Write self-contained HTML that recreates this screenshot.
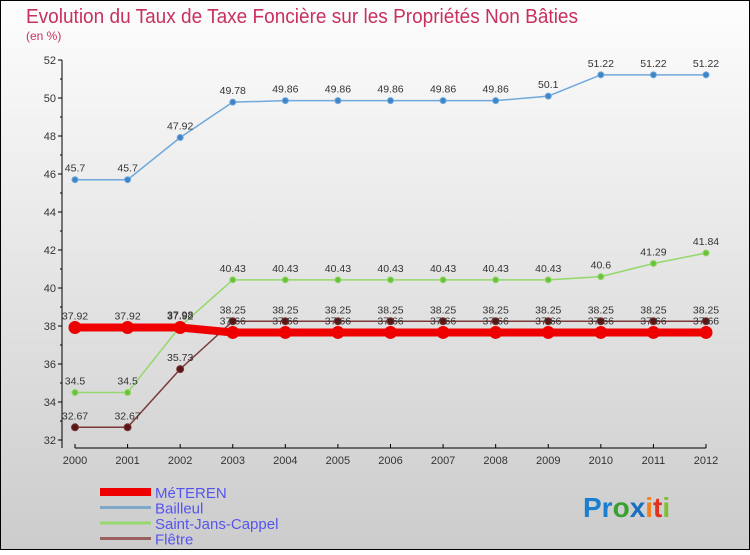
<!DOCTYPE html>
<html><head><meta charset="utf-8"><style>
body{margin:0;}
svg text{font-family:"Liberation Sans",sans-serif;}
</style></head><body>
<svg width="750" height="550" xmlns="http://www.w3.org/2000/svg">
<defs><linearGradient id="bg" x1="0" y1="0" x2="0" y2="1"><stop offset="0" stop-color="#fdfdfd"/><stop offset="1" stop-color="#cccccc"/></linearGradient></defs>
<rect x="0.5" y="0.5" width="749" height="549" fill="url(#bg)" stroke="#000"/>
<text x="26" y="23" font-size="20" fill="#c8305e" textLength="552" lengthAdjust="spacingAndGlyphs">Evolution du Taux de Taxe Foncière sur les Propriétés Non Bâties</text>
<text x="26" y="40" font-size="12" fill="#c8305e">(en %)</text>
<g id="axes"></g><g id="series"></g><g id="legend"></g>
<text x="583" y="517" font-size="28" font-weight="bold"><tspan fill="#1a7fd0">Pr</tspan><tspan fill="#3aa030">o</tspan><tspan fill="#1a6fc0">x</tspan><tspan fill="#f08020">i</tspan><tspan fill="#e03020">t</tspan><tspan fill="#80c030">i</tspan></text>
</svg>
<script>
const years=[2000,2001,2002,2003,2004,2005,2006,2007,2008,2009,2010,2011,2012];
const yTicks=[32,34,36,38,40,42,44,46,48,50,52];
const meteren=[37.92,37.92,37.92,37.66,37.66,37.66,37.66,37.66,37.66,37.66,37.66,37.66,37.66];
const bailleul=[45.7,45.7,47.92,49.78,49.86,49.86,49.86,49.86,49.86,50.1,51.22,51.22,51.22];
const sjc=[34.5,34.5,37.98,40.43,40.43,40.43,40.43,40.43,40.43,40.43,40.6,41.29,41.84];
const fletre=[32.67,32.67,35.73,38.25,38.25,38.25,38.25,38.25,38.25,38.25,38.25,38.25,38.25];
const NS='http://www.w3.org/2000/svg';
const xS=i=>75+i*(706-75)/12;
const yS=v=>60+(52-v)*19;
function mk(tag,at,parent,txt){const e=document.createElementNS(NS,tag);for(const k in at)e.setAttribute(k,at[k]);if(txt!==undefined)e.textContent=txt;document.getElementById(parent).appendChild(e);return e;}
let e;
e=mk('line',{x1:62,y1:60,x2:62,y2:448,stroke:'#000'},'axes');

e=mk('line',{x1:75,y1:448,x2:706,y2:448,stroke:'#000'},'axes');

yTicks.forEach(v=>{
 e=mk('line',{x1:58,y1:yS(v),x2:62,y2:yS(v),stroke:'#000'},'axes');
 
 e=mk('text',{x:56,y:yS(v)+4,'font-size':11,fill:'#333','text-anchor':'end'},'axes',v);
 
});
for(let v=33;v<52;v+=2){e=mk('line',{x1:60,y1:yS(v),x2:62,y2:yS(v),stroke:'#000'},'axes');}
years.forEach((y,i)=>{
 e=mk('line',{x1:xS(i),y1:444,x2:xS(i),y2:448,stroke:'#000'},'axes');
 
 e=mk('text',{x:xS(i),y:464,'font-size':11,fill:'#333','text-anchor':'middle'},'axes',y);
 
});
function series(data,color,w,r,dot,name){
 e=mk('polyline',{points:data.map((v,i)=>xS(i)+','+yS(v)).join(' '),fill:'none',stroke:color,'stroke-width':w},'series');
 
 data.forEach((v,i)=>{
  e=mk('circle',{cx:xS(i),cy:yS(v),r:r,fill:dot,stroke:color,'stroke-width':1},'series');
  
  e=mk('text',{x:xS(i),y:yS(v)-8,'font-size':10.5,fill:'#333','text-anchor':'middle'},'series',v);
  
 });
}
series(bailleul,'#6fa8dc',1.5,3,'#3d85c6','bailleul');
series(sjc,'#93d86a',1.5,3,'#6cc040','saint-jans-cappel');
series(fletre,'#7a3a3a',1.5,3.5,'#5a1515','fletre');
series(meteren,'#ee0000',8,6,'#ee0000','meteren');
const leg=[['MéTEREN','#ee0000',8],['Bailleul','#7fa8c8',3],['Saint-Jans-Cappel','#98d870',3],['Flêtre','#9a6060',3]];
leg.forEach((l,i)=>{
 const y=492+i*15.5;
 e=mk('line',{x1:100,y1:y,x2:151,y2:y,stroke:l[1],'stroke-width':l[2]},'legend');
 
 e=mk('text',{x:155,y:y+6,'font-size':15,fill:'#5555ee'},'legend',l[0]);
 
});
</script>
</body></html>
